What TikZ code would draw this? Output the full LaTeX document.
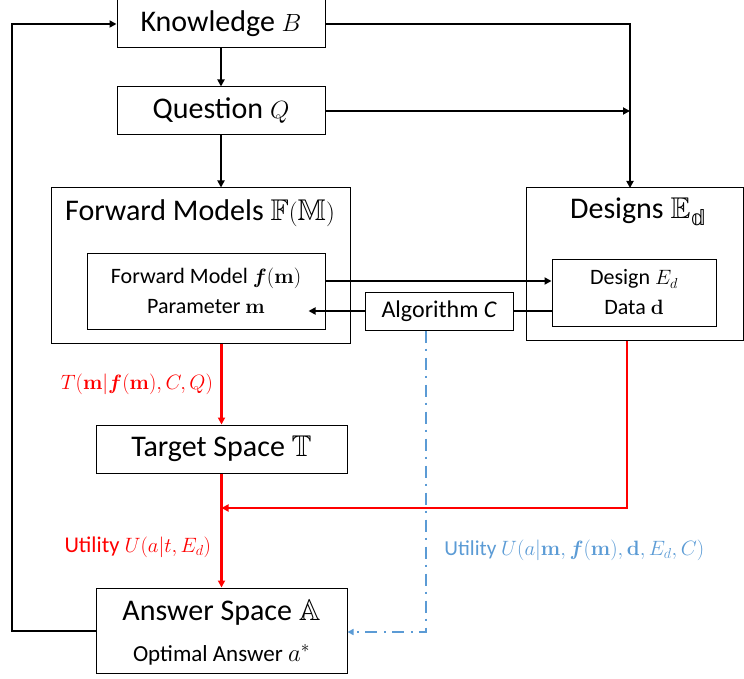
\documentclass[tikz,border=0pt]{standalone}
\usepackage{amsmath}
\usepackage{amssymb}
\usepackage[no-math]{fontspec}
\setmainfont{Carlito}
\newfontfamily\dejavu{DejaVu Sans}
\usetikzlibrary{arrows.meta}
\definecolor{ured}{RGB}{255,0,0}
\definecolor{ublue}{RGB}{91,155,213}

\begin{document}
\begin{tikzpicture}[x=1pt,y=-1pt,>={Triangle[length=7pt,width=7pt]},
  box/.style={draw,line width=1pt,inner sep=0pt},
  titlefont/.style={font=\fontsize{30}{34}\selectfont},
  innerfont/.style={font=\fontsize{22}{30}\selectfont},
  smallfont/.style={font=\fontsize{23}{26}\selectfont},
  conn/.style={line width=2pt},
  redconn/.style={line width=2.4pt,draw=ured},
  blueconn/.style={line width=2pt,draw=ublue,dash pattern=on 12pt off 6pt on 2pt off 7pt,>={Triangle[length=6pt,width=6pt]}},
  redlbl/.style={text=ured,font=\fontsize{21.5}{26}\selectfont},
  bluelbl/.style={text=ublue,font=\fontsize{21.3}{26}\selectfont}]
\useasboundingbox (0,0) rectangle (744,679);
% top boxes
\node[box,titlefont,minimum width=208,minimum height=48] (know) at (221,24) {Knowledge $B$};
\node[box,titlefont,minimum width=208,minimum height=48] (quest) at (221,111) {Question $Q$};
% forward models
\node[box,minimum width=299,minimum height=155] (fwd) at (200.5,265.5) {};
\node[titlefont] (fwdtitle) at (200,213) {Forward Models $\mathbb{F}(\mathbb{M})$};
\node[box,innerfont,align=center,minimum width=238,minimum height=76] (fwdin) at (206,291)
  {Forward Model $\boldsymbol{f}(\mathbf{m})$\\Parameter $\mathbf{m}$};
% designs
\node[box,minimum width=217,minimum height=152] (des) at (634.5,264) {};
\node[titlefont] (destitle) at (638,212) {Designs $\mathbb{E}_{\text{\dejavu 𝕕}}$};
\node[box,innerfont,align=center,minimum width=164,minimum height=67] (desin) at (634,292.5)
  {Design $E_d$\\Data $\mathbf{d}$};
\node[box,innerfont,font=\fontsize{24}{28}\selectfont,minimum width=148,minimum height=38] (alg) at (439,311) {Algorithm {\itshape C}};
% lower boxes
\node[box,titlefont,minimum width=251,minimum height=48] (target) at (221.5,449) {Target Space $\mathbb{T}$};
\node[box,minimum width=251,minimum height=85] (answer) at (221.5,630.5) {};
\node[titlefont] (anstitle) at (221.5,613) {Answer Space $\mathbb{A}$};
\node[smallfont] (ansopt) at (221.5,655) {Optimal Answer $a^*$};
% black connectors
\coordinate (dtop) at (630,188);
\coordinate (loop) at (12,24);
\draw[conn,->] (know.south) -- (quest.north);
\draw[conn,->] (quest.south) -- (quest.south |- fwd.north);
\draw[conn,->] (know.east) -| (dtop);
\draw[conn,->] (quest.east) -- (quest.east -| dtop);
\draw[conn,->] (answer.west) -| (loop) -- (know.west);
\draw[conn,->] ([yshift=10pt]fwdin.east) -- ([yshift=10pt]fwdin.east -| desin.west);
\draw[conn] (desin.west |- alg) -- (alg.east);
\draw[conn,->] (alg.west) -- ([xshift=-17pt]fwdin.east |- alg);
% red connectors
\coordinate (dred) at (627,508);
\draw[redconn,->] (fwd.south -| target) -- node[redlbl,left=4pt]{$T(\mathbf{m}|\boldsymbol{f}(\mathbf{m}),C,Q)$} (target.north);
\draw[redconn,->] (target.south) -- node[redlbl,font=\fontsize{22.5}{26}\selectfont,left=6pt,pos=0.65]{Utility $U(a|t,E_d)$} (answer.north);
\draw[redconn,->] (des.south -| dred) -- (dred) -- (dred -| target);
% blue connector
\coordinate (bcorner) at (426,632);
\draw[blueconn,->] (alg.south -| bcorner) -- node[bluelbl,right=14pt,pos=0.73]{Utility $U(a|\mathbf{m},\boldsymbol{f}(\mathbf{m}),\mathbf{d},E_d,C)$} (bcorner) -- (bcorner -| answer.east);
\end{tikzpicture}
\end{document}
